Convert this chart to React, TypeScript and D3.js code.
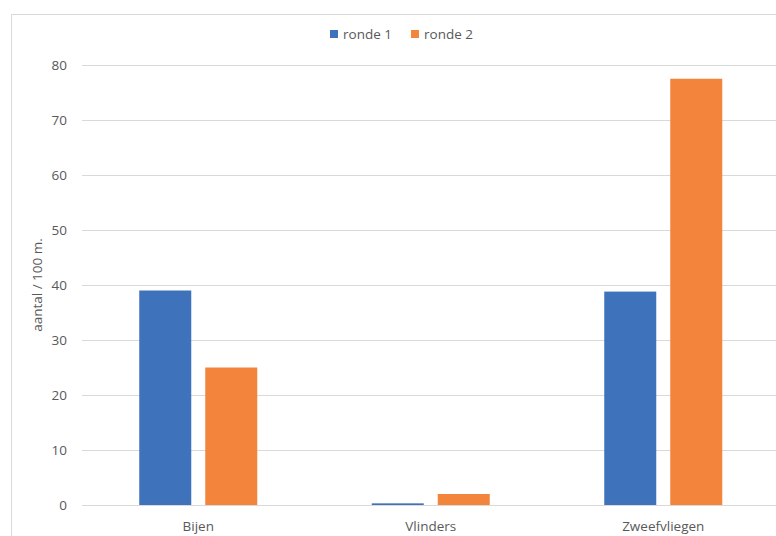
import React from "react";
import * as d3 from "d3";

const categories = ["Bijen", "Vlinders", "Zweefvliegen"];
const seriesNames = ["ronde 1", "ronde 2"];
const ronde1 = [39, 0.3, 38.8];
const ronde2 = [25, 2, 77.5];
const yTicks = [0, 10, 20, 30, 40, 50, 60, 70, 80];
const colors = ["#3E72BA", "#F3843B"];

export default function App() {
  const W = 776, H = 536;
  const plotLeft = 82, plotRight = 779.5;
  const y = d3.scaleLinear().domain([0, 80]).range([505, 65]);
  const x0 = d3.scaleBand().domain(categories).range([plotLeft, plotRight]).paddingInner(0).paddingOuter(0);
  const groupW = 118;
  const x1 = d3.scaleBand().domain(seriesNames).range([0, groupW]).paddingInner(14 / 66).paddingOuter(0);
  const series = [ronde1, ronde2];
  const font = "'Open Sans', 'Liberation Sans', Arial, sans-serif";
  const textColor = "#595959";
  return (
    <svg width={W} height={H} style={{ position: "fixed", left: 0, top: 0, background: "#fff" }} fontFamily={font}>
      <rect x={0} y={0} width={W} height={H} fill="#fff" />
      <line x1={11.5} y1={14.5} x2={W} y2={14.5} stroke="#d9d9d9" strokeWidth={1} />
      <line x1={11.5} y1={14.5} x2={11.5} y2={H} stroke="#d9d9d9" strokeWidth={1} />
      {yTicks.map((t) => (
        <g key={t}>
          <line x1={plotLeft} x2={W} y1={Math.round(y(t)) + 0.5} y2={Math.round(y(t)) + 0.5} stroke="#d9d9d9" strokeWidth={1} />
          <text x={67} y={y(t)} dy="0.35em" textAnchor="end" fontSize={13.5} fill={textColor}>{t}</text>
        </g>
      ))}
      {categories.map((c, i) => {
        const cx = (x0(c) as number) + x0.bandwidth() / 2;
        return (
          <g key={c}>
            {series.map((s, j) => {
              const bx = cx - groupW / 2 + (x1(seriesNames[j]) as number);
              return (
                <rect key={j} x={bx} y={y(s[i])} width={x1.bandwidth()} height={y(0) - y(s[i])} fill={colors[j]} />
              );
            })}
            <text x={cx} y={531} textAnchor="middle" fontSize={13.5} fill={textColor}>{c}</text>
          </g>
        );
      })}
      <text transform={`translate(42,285) rotate(-90)`} textAnchor="middle" fontSize={13.5} fill={textColor}>aantal / 100 m.</text>
      {seriesNames.map((n, j) => {
        const lx = j === 0 ? 330 : 411;
        return (
          <g key={n}>
            <rect x={lx} y={30} width={8} height={8} fill={colors[j]} />
            <text x={lx + 13} y={34} dy="0.35em" fontSize={13.5} fill={textColor}>{n}</text>
          </g>
        );
      })}
    </svg>
  );
}
